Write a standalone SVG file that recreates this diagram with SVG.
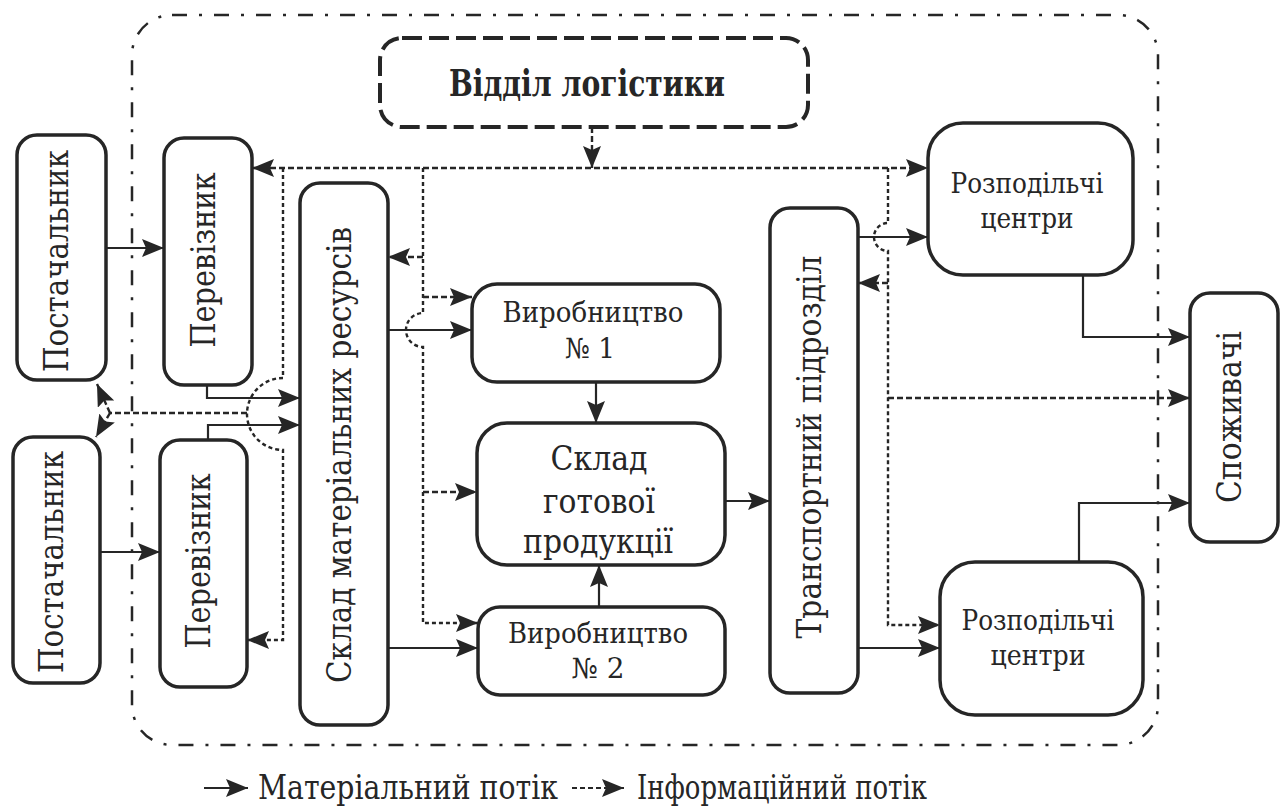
<svg xmlns="http://www.w3.org/2000/svg" width="1287" height="808" viewBox="0 0 1287 808">
<defs>
<style>
.node{fill:#fff;stroke:#262626;stroke-width:3.5}
.dnode{fill:#fff;stroke:#262626;stroke-width:4;stroke-dasharray:20 7}
.mat{fill:none;stroke:#262626;stroke-width:2.2}
.info{fill:none;stroke:#262626;stroke-width:2.4;stroke-dasharray:6 3}
.vinfo{fill:none;stroke:#262626;stroke-width:2.4;stroke-dasharray:4 3}
.bound{fill:none;stroke:#262626;stroke-width:2.5;stroke-dasharray:15 12 3 12}
.ah{marker-end:url(#arr)}
.ah2{marker-start:url(#arr);marker-end:url(#arr)}
text{font-family:"DejaVu Serif",serif;fill:#262626}
.vt{font-size:34px;text-anchor:middle}
.ht{font-size:28px;text-anchor:middle}
.bt{font-size:33px;text-anchor:middle}
.lg{font-size:33px}
</style>
<marker id="arr" markerUnits="userSpaceOnUse" markerWidth="24" markerHeight="20" refX="22" refY="9" orient="auto-start-reverse" viewBox="0 0 24 20">
<path d="M0,0 L22,9 L0,18 L4,9 z" fill="#262626"/>
</marker>
</defs>

<rect class="bound" x="132" y="15" width="1026" height="730" rx="40" ry="40"/>

<g id="connectors">
<path class="mat ah" d="M106,248 H164"/>
<path class="mat ah" d="M100,552 H160"/>
<path class="mat ah" d="M207,385 V398 H300"/>
<path class="mat ah" d="M208,440 V425 H300"/>
<path class="mat ah" d="M388,330 H472"/>
<path class="mat ah" d="M388,648 H478"/>
<path class="mat ah" d="M596,382 V423"/>
<path class="mat ah" d="M599,607 V565"/>
<path class="mat ah" d="M725,501 H770"/>
<path class="mat ah" d="M858,237 H928"/>
<path class="mat ah" d="M858,648 H940"/>
<path class="mat ah" d="M1083,275 V337 H1190"/>
<path class="mat ah" d="M1079,562 V503 H1190"/>

<path class="info ah" d="M592,127 V168"/>
<path class="info ah2" d="M252,168 H928"/>
<path class="vinfo ah" d="M283,168 V378 A36,36 0 0 0 283,450 V640 H247"/>
<path class="info" d="M247,413 H110"/>
<path class="info ah" d="M110,413 L97,384"/>
<path class="info ah" d="M110,413 L96,437"/>
<path class="vinfo ah" d="M423,168 V313 A17,17 0 0 0 423,347 V623 H478"/>
<path class="info ah" d="M423,257 H388"/>
<path class="info ah" d="M423,297 H472"/>
<path class="info ah" d="M423,492 H477"/>
<path class="vinfo ah" d="M888,168 V223 A14,14 0 0 0 888,251 V625 H940"/>
<path class="info ah" d="M888,283 H858"/>
<path class="info ah" d="M888,398 H1190"/>
</g>

<g id="n-postach1">
<rect class="node" x="17" y="135" width="89" height="245" rx="20"/>
<text class="vt" transform="translate(61,261) rotate(-90)" y="7" textLength="222" lengthAdjust="spacingAndGlyphs">Постачальник</text>
</g>
<g id="n-postach2">
<rect class="node" x="13" y="437" width="87" height="246" rx="20"/>
<text class="vt" transform="translate(56,562) rotate(-90)" y="7" textLength="222" lengthAdjust="spacingAndGlyphs">Постачальник</text>
</g>
<g id="n-perev1">
<rect class="node" x="164" y="138" width="88" height="247" rx="20"/>
<text class="vt" transform="translate(208,260) rotate(-90)" y="7" textLength="175" lengthAdjust="spacingAndGlyphs">Перевізник</text>
</g>
<g id="n-perev2">
<rect class="node" x="160" y="440" width="87" height="247" rx="20"/>
<text class="vt" transform="translate(203,561) rotate(-90)" y="7" textLength="175" lengthAdjust="spacingAndGlyphs">Перевізник</text>
</g>
<g id="n-sklad-mat">
<rect class="node" x="300" y="183" width="88" height="542" rx="20"/>
<text class="vt" transform="translate(344,455) rotate(-90)" y="7" textLength="456" lengthAdjust="spacingAndGlyphs">Склад матеріальних ресурсів</text>
</g>
<g id="n-viddil">
<rect class="dnode" x="380" y="38" width="428" height="89" rx="22"/>
<text x="587" y="96" font-family="Liberation Serif" font-size="37" font-weight="bold" text-anchor="middle" textLength="276" lengthAdjust="spacingAndGlyphs">Відділ логістики</text>
</g>
<g id="n-vyr1">
<rect class="node" x="472" y="284" width="248" height="98" rx="25"/>
<text class="ht" x="593" y="322" textLength="181" lengthAdjust="spacingAndGlyphs">Виробництво</text>
<text class="ht" x="590" y="358" textLength="50" lengthAdjust="spacingAndGlyphs">№ 1</text>
</g>
<g id="n-sklad-got">
<rect class="node" x="477" y="423" width="248" height="142" rx="30"/>
<text class="bt" x="599" y="470" textLength="97" lengthAdjust="spacingAndGlyphs">Склад</text>
<text class="bt" x="599" y="513" textLength="112" lengthAdjust="spacingAndGlyphs">готової</text>
<text class="bt" x="598" y="553" textLength="150" lengthAdjust="spacingAndGlyphs">продукції</text>
</g>
<g id="n-vyr2">
<rect class="node" x="478" y="607" width="247" height="88" rx="22"/>
<text class="ht" x="598" y="643" textLength="180" lengthAdjust="spacingAndGlyphs">Виробництво</text>
<text class="ht" x="598" y="678" textLength="53" lengthAdjust="spacingAndGlyphs">№ 2</text>
</g>
<g id="n-transport">
<rect class="node" x="770" y="208" width="88" height="485" rx="20"/>
<text class="vt" transform="translate(814,447) rotate(-90)" y="7" textLength="383" lengthAdjust="spacingAndGlyphs">Транспортний підрозділ</text>
</g>
<g id="n-rozp1">
<rect class="node" x="928" y="123" width="205" height="152" rx="35"/>
<text class="ht" x="1027" y="193" textLength="153" lengthAdjust="spacingAndGlyphs">Розподільчі</text>
<text class="ht" x="1027" y="228" textLength="93" lengthAdjust="spacingAndGlyphs">центри</text>
</g>
<g id="n-rozp2">
<rect class="node" x="940" y="562" width="203" height="153" rx="35"/>
<text class="ht" x="1038" y="630" textLength="153" lengthAdjust="spacingAndGlyphs">Розподільчі</text>
<text class="ht" x="1038" y="665" textLength="95" lengthAdjust="spacingAndGlyphs">центри</text>
</g>
<g id="n-spozh">
<rect class="node" x="1190" y="293" width="88" height="249" rx="20"/>
<text class="vt" transform="translate(1234,417) rotate(-90)" y="7" textLength="172" lengthAdjust="spacingAndGlyphs">Споживачі</text>
</g>

<g id="legend">
<path class="mat ah" d="M204,788 H248"/>
<text class="lg" x="258" y="799" textLength="300" lengthAdjust="spacingAndGlyphs">Матеріальний потік</text>
<path class="mat ah" d="M572,788 H624" stroke-dasharray="5 3"/>
<text class="lg" x="637" y="799" textLength="290" lengthAdjust="spacingAndGlyphs">Інформаційний потік</text>
</g>
</svg>
